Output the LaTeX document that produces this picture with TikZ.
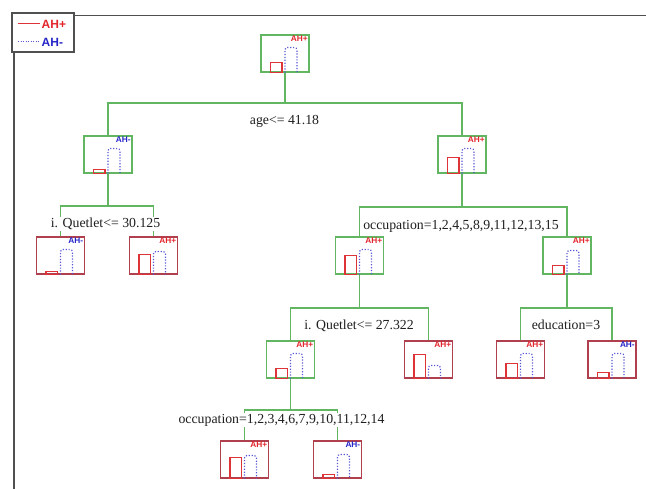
\documentclass[tikz,border=0pt]{standalone}
\usepackage{fontspec}
\setmainfont{Liberation Serif}
\newfontfamily\tagfont{Liberation Sans}
\definecolor{splitgreen}{RGB}{98,182,98}
\definecolor{leafred}{RGB}{176,64,78}
\definecolor{barred}{RGB}{222,52,56}
\definecolor{barblue}{RGB}{86,86,214}
\definecolor{tagred}{RGB}{226,38,44}
\definecolor{tagblue}{RGB}{38,38,200}
\definecolor{framegray}{RGB}{80,80,80}
\tikzset{
  split/.style={draw=splitgreen,line width=1.1pt,minimum width=48pt,minimum height=37pt,inner sep=0pt},
  leaf/.style={split,draw=leafred},
  edge/.style={draw=splitgreen,line width=1.1pt},
  rule/.style={fill=white,inner sep=1pt,text=black!88,font=\fontsize{13.8}{16}\selectfont},
  plustag/.style={anchor=north east,inner sep=1.6pt,text=tagred,font=\tagfont\bfseries\fontsize{8.3}{9}\selectfont},
  minustag/.style={plustag,text=tagblue},
  ahplus/.style={label={[plustag]north east:AH+}},
  ahminus/.style={label={[minustag]north east:AH-}},
  redbar/.style={draw=barred,line width=1.1pt},
  bluebar/.style={draw=barblue,line width=1.2pt,dash pattern=on 1.2pt off 1.7pt,rounded corners=2.5pt},
  frame/.style={draw=framegray,line width=1.6pt},
  legendtag/.style={anchor=west,inner sep=0pt,font=\tagfont\bfseries\fontsize{12}{13}\selectfont}
}
\begin{document}
\begin{tikzpicture}[x=1pt,y=-1pt]
  \useasboundingbox (0,0) rectangle (646,489);
  \draw[frame] (74,15.5) -- (646,15.5);
  \draw[frame] (14,52) -- (14,489);
  \node[frame,fill=white,minimum width=62pt,minimum height=39pt,inner sep=0pt] (legend) at (43,32.5) {};
  \draw[barred,line width=1pt] (18,24) -- (40,24);
  \node[legendtag,text=tagred] (legplus) at (41.5,24) {AH+};
  \draw[barblue,line width=1pt,dash pattern=on 1pt off 1.5pt] (18,42) -- (40,42);
  \node[legendtag,text=tagblue] (legminus) at (41.5,42) {AH-};

  \node[split,ahplus] (root) at (285,53.5) {};
  \node[split,ahminus] (lc) at (108,154.5) {};
  \node[split,ahplus] (rc) at (462,154.5) {};
  \node[leaf,ahminus] (l1) at (60.5,255.5) {};
  \node[leaf,ahplus] (l2) at (153.5,255.5) {};
  \node[split,ahplus] (n3) at (359.5,255.5) {};
  \node[split,ahplus] (n4) at (567,255.5) {};
  \node[split,ahplus] (n5) at (290.5,359.5) {};
  \node[leaf,ahplus] (l3) at (428.5,359.5) {};
  \node[leaf,ahplus] (l4) at (520.5,359.5) {};
  \node[leaf,ahminus] (l5) at (612,359.5) {};
  \node[leaf,ahplus] (l6) at (244.5,459.5) {};
  \node[leaf,ahminus] (l7) at (337.5,459.5) {};

  \foreach \n/\r/\b in {root/10/25,lc/4/25,rc/16/25,l1/3/25,l2/20/23,n3/19/25,n4/9/24,
      n5/10/25,l3/24/13,l4/15/25,l5/6/25,l6/21/23,l7/4/24}{
    \draw[redbar] ([xshift=10pt]\n.south west) rectangle ++(11.5,-\r);
    \draw[bluebar] ([xshift=24.5pt]\n.south west) -- ++(0,-\b) -- ++(12,0) -- ++(0,\b);
  }

  \coordinate (s0) at (285,103);
  \coordinate (s1) at (108,206);
  \coordinate (s2) at (462,207);
  \coordinate (s3) at (359.5,308);
  \coordinate (s4) at (567,308);
  \coordinate (s5) at (290.5,410);
  \begin{scope}[edge]
    \draw (root.south) -- (s0);
    \draw (lc.north) |- (s0) -| (rc.north);
    \draw (lc.south) -- (s1);
    \draw (l1.north) |- (s1) -| (l2.north);
    \draw (rc.south) -- (s2);
    \draw (n3.north) |- (s2) -| (n4.north);
    \draw (n3.south) -- (s3);
    \draw (n5.north) |- (s3) -| (l3.north);
    \draw (n4.south) -- (s4);
    \draw (l4.north) |- (s4) -| (l5.north);
    \draw (n5.south) -- (s5);
    \draw (l6.north) |- (s5) -| (l7.north);
  \end{scope}

  \node[rule] (r0) at (284.5,121.5) {age<= 41.18};
  \node[rule] (r1) at (105.5,224) {i. Quetlet<= 30.125};
  \node[rule] (r2) at (461,226) {occupation=1,2,4,5,8,9,11,12,13,15};
  \node[rule] (r3) at (359,326) {i. Quetlet<= 27.322};
  \node[rule] (r4) at (566,325) {education=3};
  \node[rule] (r5) at (281.5,420) {occupation=1,2,3,4,6,7,9,10,11,12,14};
\end{tikzpicture}
\end{document}
